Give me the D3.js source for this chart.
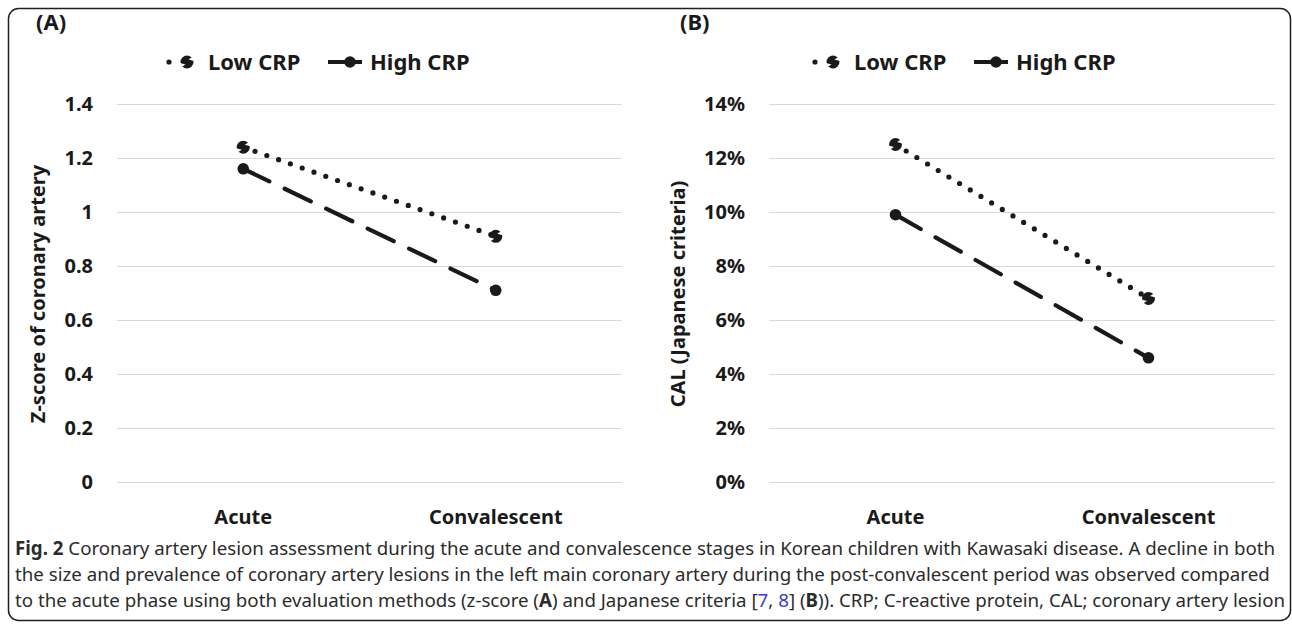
<!DOCTYPE html>
<html>
<head>
<meta charset="utf-8">
<script src="https://cdn.jsdelivr.net/npm/d3@7"></script>
<style>
  body { margin: 0; background: #fff; }
  svg { display: block; font-family: "Noto Sans", "Open Sans", sans-serif; }
  .grid line { stroke: #d9d9d9; stroke-width: 1; }
  .tick-label, .cat-label, .ytitle, .legend text, .panel-label { fill: #1a1a1a; font-weight: bold; }
</style>
</head>
<body>
<div id="chart"></div>
<script>
var width = 1292, height = 624;

// data
var categories = ["Acute", "Convalescent"];
var seriesNames = ["Low CRP", "High CRP"];
var zLow = [1.24, 0.91];
var zHigh = [1.16, 0.71];
var calLow = [0.125, 0.068];
var calHigh = [0.099, 0.046];
var zTicks = [0, 0.2, 0.4, 0.6, 0.8, 1, 1.2, 1.4];
var zTickLabels = ["0", "0.2", "0.4", "0.6", "0.8", "1", "1.2", "1.4"];
var calTicks = [0, 0.02, 0.04, 0.06, 0.08, 0.10, 0.12, 0.14];
var calTickLabels = ["0%", "2%", "4%", "6%", "8%", "10%", "12%", "14%"];

var svg = d3.select('#chart')
  .append('svg')
  .attr('width', width)
  .attr('height', height);

// outer frame
svg.append('rect')
  .attr('x', 8.5).attr('y', 8.5)
  .attr('width', 1282).attr('height', 612)
  .attr('rx', 10).attr('ry', 10)
  .attr('fill', 'none')
  .attr('stroke', '#231f20')
  .attr('stroke-width', 1.5);

var lineStyles = {
  "Low CRP": { dash: "0,12.5", width: 5.2 },
  "High CRP": { dash: "29,17", width: 4.2 }
};

// the Low CRP marker is a blob with two notches cut out (looks like a squiggle)
function drawMarker(sel, name, x, y) {
  var m = sel.append('g').attr('transform', 'translate(' + x + ',' + y + ')');
  if (name === "Low CRP") {
    m.append('circle').attr('r', 6.5).attr('fill', '#1a1a1a');
    m.append('path').attr('d', 'M-7,1 L-1.5,2.5 L-7,6 Z').attr('fill', '#fff');
    m.append('path').attr('d', 'M7,-1 L1.5,-2.5 L7,-6 Z').attr('fill', '#fff');
  } else {
    m.append('circle').attr('r', 5.8).attr('fill', '#1a1a1a');
  }
}

function panel(opt) {
  var g = svg.append('g');

  var x = d3.scaleBand()
    .domain(categories)
    .range([opt.left, opt.right]);

  var y = d3.scaleLinear()
    .domain([0, opt.ticks[opt.ticks.length - 1]])
    .range([482, 104]);

  // gridlines
  g.append('g').attr('class', 'grid')
    .selectAll('line')
    .data(opt.ticks)
    .enter().append('line')
      .attr('x1', opt.left).attr('x2', opt.right)
      .attr('y1', function(d) { return Math.round(y(d)) + 0.5; })
      .attr('y2', function(d) { return Math.round(y(d)) + 0.5; });

  // tick labels
  g.selectAll('.tick-label')
    .data(opt.ticks)
    .enter().append('text')
      .attr('class', 'tick-label')
      .attr('x', opt.left - 24)
      .attr('y', function(d) { return y(d); })
      .attr('dy', '0.35em')
      .attr('text-anchor', 'end')
      .style('font-size', '20px')
      .text(function(d, i) { return opt.tickLabels[i]; });

  // category labels
  g.selectAll('.cat-label')
    .data(categories)
    .enter().append('text')
      .attr('class', 'cat-label')
      .attr('x', function(d) { return x(d) + x.bandwidth() / 2; })
      .attr('y', 524)
      .attr('text-anchor', 'middle')
      .style('font-size', '20px')
      .text(function(d) { return d; });

  // y title
  g.append('text')
    .attr('class', 'ytitle')
    .attr('transform', 'translate(' + opt.titleX + ',294)rotate(-90)')
    .attr('text-anchor', 'middle')
    .attr('dy', '0.35em')
    .style('font-size', '20px')
    .text(opt.title);

  // panel label
  g.append('text')
    .attr('class', 'panel-label')
    .attr('x', opt.labelX)
    .attr('y', 30)
    .style('font-size', '22px')
    .text(opt.label);

  // lines + markers
  var line = d3.line()
    .x(function(d, i) { return x(categories[i]) + x.bandwidth() / 2; })
    .y(function(d) { return y(d); });

  opt.series.forEach(function(vals, si) {
    var name = seriesNames[si];
    g.append('path')
      .datum(vals)
      .attr('d', line)
      .attr('fill', 'none')
      .attr('stroke', '#1a1a1a')
      .attr('stroke-width', lineStyles[name].width)
      .attr('stroke-dasharray', lineStyles[name].dash)
      .attr('stroke-linecap', 'round');
  });
  opt.series.forEach(function(vals, si) {
    var name = seriesNames[si];
    vals.forEach(function(v, i) {
      drawMarker(g, name, x(categories[i]) + x.bandwidth() / 2, y(v));
    });
  });

  // legend
  var lg = g.append('g').attr('class', 'legend')
    .attr('transform', 'translate(' + opt.legendX + ',62)');
  // Low CRP item
  lg.append('circle').attr('cx', 3).attr('cy', 0).attr('r', 2.6).attr('fill', '#1a1a1a');
  drawMarker(lg, "Low CRP", 21, 0);
  lg.append('text').attr('x', 42).attr('dy', '0.35em').style('font-size', '22px').text(seriesNames[0]);
  // High CRP item
  lg.append('line').attr('x1', 162).attr('x2', 196).attr('y1', 0).attr('y2', 0)
    .attr('stroke', '#1a1a1a').attr('stroke-width', 4.2);
  drawMarker(lg, "High CRP", 184, 0);
  lg.append('text').attr('x', 204).attr('dy', '0.35em').style('font-size', '22px').text(seriesNames[1]);
}

panel({
  left: 117, right: 622,
  ticks: zTicks, tickLabels: zTickLabels,
  title: "Z-score of coronary artery", titleX: 38,
  label: "(A)", labelX: 36,
  series: [zLow, zHigh],
  legendX: 166
});

panel({
  left: 769, right: 1275,
  ticks: calTicks, tickLabels: calTickLabels,
  title: "CAL (Japanese criteria)", titleX: 678,
  label: "(B)", labelX: 680,
  series: [calLow, calHigh],
  legendX: 812
});

// caption
var caption = svg.append('text')
  .attr('x', 15)
  .style('font-size', '18.7px')
  .attr('fill', '#2b2b2b');

var l1 = caption.append('tspan').attr('x', 15).attr('y', 555);
l1.append('tspan').style('font-weight', 'bold').text('Fig. 2');
l1.append('tspan').text(' Coronary artery lesion assessment during the acute and convalescence stages in Korean children with Kawasaki disease. A decline in both');

caption.append('tspan').attr('x', 15).attr('y', 581)
  .text('the size and prevalence of coronary artery lesions in the left main coronary artery during the post-convalescent period was observed compared');

var l3 = caption.append('tspan').attr('x', 15).attr('y', 607);
l3.append('tspan').text('to the acute phase using both evaluation methods (z-score (');
l3.append('tspan').style('font-weight', 'bold').text('A');
l3.append('tspan').text(') and Japanese criteria [');
l3.append('tspan').attr('fill', '#3b3bd8').text('7');
l3.append('tspan').text(', ');
l3.append('tspan').attr('fill', '#3b3bd8').text('8');
l3.append('tspan').text('] (');
l3.append('tspan').style('font-weight', 'bold').text('B');
l3.append('tspan').text(')). CRP; C-reactive protein, CAL; coronary artery lesion');
</script>
</body>
</html>
